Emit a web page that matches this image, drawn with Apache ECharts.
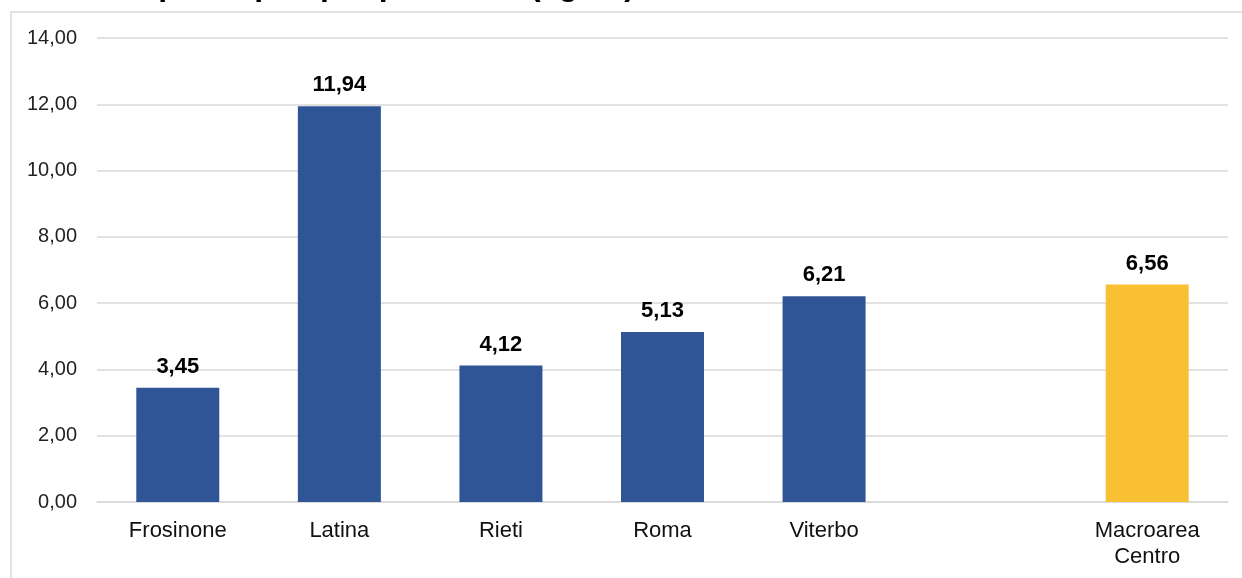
<!DOCTYPE html>
<html>
<head>
<meta charset="utf-8">
<script src="https://cdn.jsdelivr.net/npm/echarts@6/dist/echarts.min.js"></script>
<style>
  html, body { margin: 0; padding: 0; background: #fff; }
  #chart { width: 1242px; height: 578px; }
</style>
</head>
<body>
<div id="chart"></div>
<script>
let categories = ['Frosinone', 'Latina', 'Rieti', 'Roma', 'Viterbo', '', 'Macroarea\nCentro'];
let values = [3.45, 11.94, 4.12, 5.13, 6.21, null, 6.56];
let barColors = ['#2F5597', '#2F5597', '#2F5597', '#2F5597', '#2F5597', '#2F5597', '#F9C033'];
let titleText = 'Raccolta pro capite per provincia (kg/ab)';

function fmt(v) {
    return v.toFixed(2).replace('.', ',');
}

let chart = echarts.init(document.getElementById('chart'));

let option = {
    backgroundColor: '#fff',
    animation: false,
    title: {
        text: titleText,
        left: 16,
        top: -30,
        padding: 0,
        textStyle: {
            fontFamily: 'Liberation Sans, Arial, sans-serif',
            fontSize: 32,
            fontWeight: 'bold',
            color: '#000'
        }
    },
    graphic: [{
        type: 'rect',
        shape: { x: 11, y: 12, width: 1300, height: 700 },
        style: { fill: 'none', stroke: '#d9d9d9', lineWidth: 1.5 },
        silent: true
    }],
    grid: {
        left: 97,
        right: 14,
        top: 38,
        bottom: 76,
        containLabel: false
    },
    xAxis: {
        type: 'category',
        data: categories,
        axisTick: { show: false },
        axisLine: { lineStyle: { color: '#d9d9d9', width: 1.5 } },
        axisLabel: {
            interval: 0,
            margin: 16,
            fontFamily: 'Liberation Sans, Arial, sans-serif',
            fontSize: 22,
            lineHeight: 26,
            color: '#111'
        }
    },
    yAxis: {
        type: 'value',
        min: 0,
        max: 14,
        interval: 2,
        axisLine: { show: false },
        axisTick: { show: false },
        splitLine: { lineStyle: { color: '#d9d9d9', width: 1.5 } },
        axisLabel: {
            margin: 20,
            fontFamily: 'Liberation Sans, Arial, sans-serif',
            fontSize: 20,
            color: '#222',
            formatter: function (v) { return fmt(v); }
        }
    },
    series: [{
        type: 'bar',
        barWidth: 83,
        data: values.map(function (v, i) {
            return { value: v, itemStyle: { color: barColors[i] } };
        }),
        label: {
            show: true,
            position: 'top',
            distance: 10,
            fontFamily: 'Liberation Sans, Arial, sans-serif',
            fontSize: 22,
            fontWeight: 'bold',
            color: '#000',
            formatter: function (p) { return p.value == null ? '' : fmt(p.value); }
        }
    }]
};

chart.setOption(option);
</script>
</body>
</html>
